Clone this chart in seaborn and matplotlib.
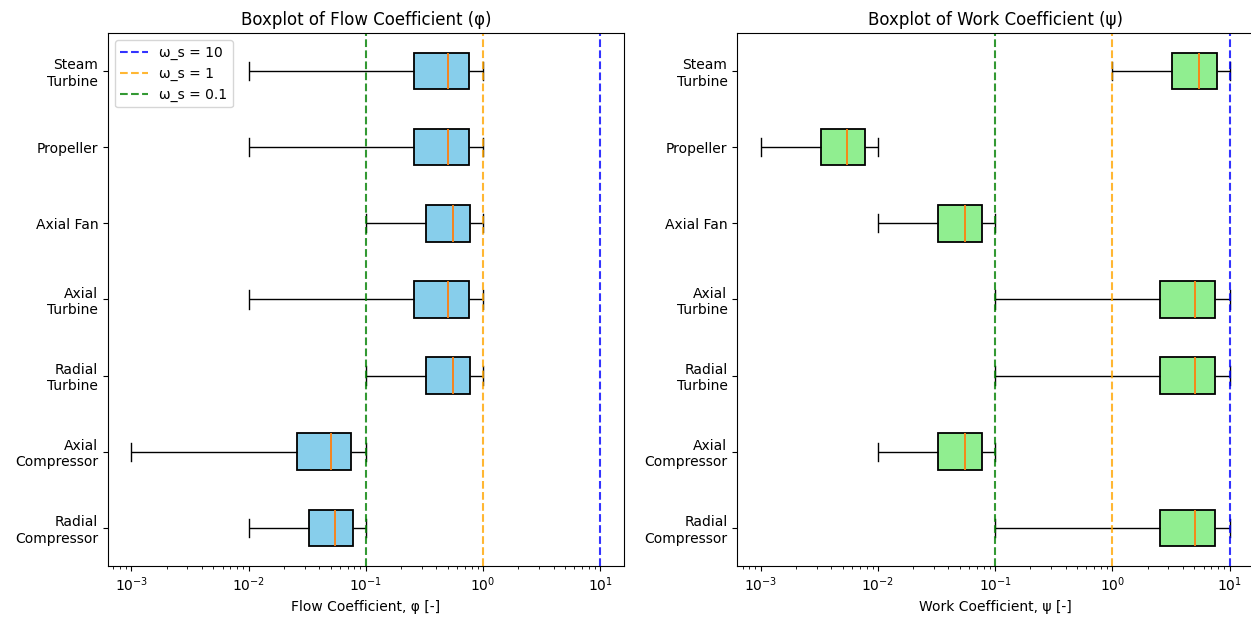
import numpy as np
import pandas as pd
import seaborn as sns
import matplotlib.pyplot as plt

# ---------- data (min / max range per machine type) ----------
machines = ['Steam\nTurbine', 'Propeller', 'Axial Fan', 'Axial\nTurbine',
            'Radial\nTurbine', 'Axial\nCompressor', 'Radial\nCompressor']

phi_min = [0.01, 0.01, 0.1, 0.01, 0.1, 0.001, 0.01]
phi_max = [1.0, 1.0, 1.0, 1.0, 1.0, 0.1, 0.1]

psi_min = [1.0, 0.001, 0.01, 0.1, 0.1, 0.01, 0.1]
psi_max = [10.0, 0.01, 0.1, 10.0, 10.0, 0.1, 10.0]

omega_s = [10, 1, 0.1]
omega_colors = ['blue', 'orange', 'green']

# long-form table: two samples (min, max) per machine
df = pd.DataFrame({
    'machine': machines * 2,
    'phi': phi_min + phi_max,
    'psi': psi_min + psi_max,
})

fig, axes = plt.subplots(1, 2, figsize=(12.51, 6.21), dpi=100)
fig.subplots_adjust(left=0.0863, right=1.0016, bottom=0.0886, top=0.947, wspace=0.22)

box_kw = dict(orient='h', order=machines, width=0.48, saturation=1,
              linecolor='black', linewidth=1, whis=(0, 100))


def style_boxes(ax):
    # orange medians, slightly heavier box outline
    for cont in ax.containers:
        for m in cont.medians:
            m.set_color('C1')
            m.set_linewidth(1.3)
            m.set_zorder(5)
        for b in cont.boxes:
            b.set_linewidth(1.3)


# ---------- flow coefficient ----------
ax = axes[0]
sns.boxplot(data=df, x='phi', y='machine', color='skyblue', ax=ax, **box_kw)
style_boxes(ax)
ax.set_xscale('log')
for val, col in zip(omega_s, omega_colors):
    ax.axvline(val, color=col, linestyle='--', linewidth=1.5, alpha=0.8,
               label=f'ω_s = {val}')
ax.set_title('Boxplot of Flow Coefficient (φ)')
ax.set_xlabel('Flow Coefficient, φ [-]')
ax.set_ylabel('')
ax.legend(loc='upper left')

# ---------- work coefficient ----------
ax = axes[1]
sns.boxplot(data=df, x='psi', y='machine', color='lightgreen', ax=ax, **box_kw)
style_boxes(ax)
ax.set_xscale('log')
for val, col in zip(omega_s, omega_colors):
    ax.axvline(val, color=col, linestyle='--', linewidth=1.5, alpha=0.8)
ax.set_title('Boxplot of Work Coefficient (ψ)')
ax.set_xlabel('Work Coefficient, ψ [-]')
ax.set_ylabel('')

plt.savefig('out.png', dpi=100)
